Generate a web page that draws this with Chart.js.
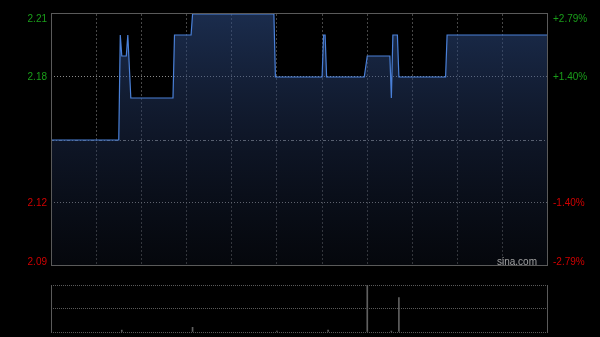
<!DOCTYPE html>
<html>
<head>
<meta charset="utf-8">
<script src="https://cdn.jsdelivr.net/npm/chart.js@4"></script>
<style>
  html, body { margin: 0; padding: 0; background: #000; }
  #wrap { position: relative; width: 600px; height: 337px; background: #000; overflow: hidden; }
  #priceChart { position: absolute; left: 0; top: 0; }
  #volChart { position: absolute; left: 0; top: 275px; }
</style>
</head>
<body>
<div id="wrap">
  <canvas id="priceChart" width="600" height="280"></canvas>
  <canvas id="volChart" width="600" height="62"></canvas>
</div>
<script>
// Data (minutes from open, 30-min grid, 330 min day)
const prevClose = 2.15;
const priceTicks = [2.09, 2.12, 2.15, 2.18, 2.21];
const minutes = [0, 45, 46, 47, 50, 51, 53, 81, 82, 93, 94, 148, 149, 180, 181, 182, 183, 208, 210, 225, 226, 227, 230, 231, 262, 263, 330];
const prices  = [2.15, 2.15, 2.20, 2.19, 2.19, 2.20, 2.17, 2.17, 2.20, 2.20, 2.21, 2.21, 2.18, 2.18, 2.20, 2.20, 2.18, 2.18, 2.19, 2.19, 2.17, 2.20, 2.20, 2.18, 2.18, 2.20, 2.20];
const volMinutes = [47, 94, 150, 184, 210, 226, 231];
const volumes    = [16000, 40000, 8000, 16000, 400000, 8000, 292000];

const UP = '#1a9e1a';
const DOWN = '#d00000';
const FONT = '10px "Liberation Sans", Arial, sans-serif';

// Gradient fill under the price line
function fillGradient(context) {
  const { chart } = context;
  const area = chart.chartArea;
  if (!area) return 'rgba(40,70,120,0.4)';
  const g = chart.ctx.createLinearGradient(0, area.top, 0, area.bottom);
  g.addColorStop(0, 'rgba(46,76,132,0.58)');
  g.addColorStop(0.5, 'rgba(34,52,92,0.42)');
  g.addColorStop(1, 'rgba(14,20,34,0.35)');
  return g;
}

// Frame + side labels for the price panel
const priceDecor = {
  id: 'priceDecor',
  afterDraw(chart) {
    const { ctx, chartArea: a, scales } = chart;
    ctx.save();
    ctx.strokeStyle = '#5a5a5a';
    ctx.lineWidth = 1;
    ctx.strokeRect(a.left + 0.5, a.top - 0.5, a.right - a.left - 1, a.bottom - a.top);

    ctx.font = FONT;
    ctx.textBaseline = 'middle';
    priceTicks.forEach(v => {
      if (v === prevClose) return;
      let y = scales.y.getPixelForValue(v);
      y = Math.min(Math.max(y, a.top + 5), a.bottom - 4);
      ctx.fillStyle = v > prevClose ? UP : DOWN;
      ctx.textAlign = 'right';
      ctx.fillText(v.toFixed(2), a.left - 4, y);
      const pct = (v / prevClose - 1) * 100;
      ctx.textAlign = 'left';
      ctx.fillText((pct > 0 ? '+' : '') + pct.toFixed(2) + '%', a.right + 5, y);
    });

    ctx.fillStyle = '#a0a0a0';
    ctx.textAlign = 'right';
    ctx.fillText('sina.com', a.right - 11, a.bottom - 4);
    ctx.restore();
  }
};

new Chart(document.getElementById('priceChart'), {
  type: 'line',
  data: {
    datasets: [{
      data: minutes.map((m, i) => ({ x: m, y: prices[i] })),
      borderColor: '#4a80d8',
      borderWidth: 1.2,
      pointRadius: 0,
      tension: 0,
      fill: 'start',
      backgroundColor: fillGradient,
    }],
  },
  options: {
    responsive: false,
    animation: false,
    layout: { padding: { left: 51, right: 52, top: 14, bottom: 14 } },
    plugins: { legend: { display: false }, tooltip: { enabled: false } },
    scales: {
      x: {
        type: 'linear', min: 0, max: 330,
        ticks: { display: false, stepSize: 30 },
        grid: {
          drawTicks: false,
          color: c => (c.tick && (c.tick.value === 0 || c.tick.value === 330)) ? 'transparent' : '#474747',
        },
        border: { display: false, dash: [2, 2] },
        afterFit: s => { s.height = 0; },
      },
      y: {
        min: 2.09, max: 2.21,
        afterBuildTicks: s => { s.ticks = priceTicks.map(v => ({ value: v })); },
        ticks: { display: false },
        grid: {
          drawTicks: false,
          color: c => {
            if (!c.tick) return 'transparent';
            const v = c.tick.value;
            if (v === prevClose) return '#808080';
            if (v === 2.12 || v === 2.18) return '#8a8a8a';
            return 'transparent';
          },
        },
        border: {
          display: false,
          dash: c => (c.tick && c.tick.value === prevClose) ? [3, 2, 1, 2] : [1, 2],
        },
        afterFit: s => { s.width = 0; },
      },
    },
  },
  plugins: [priceDecor],
});

// Volume panel
const volMax = Math.max(...volumes);
const volFrame = {
  id: 'volFrame',
  afterDraw(chart) {
    const { ctx, chartArea: a } = chart;
    ctx.save();
    ctx.strokeStyle = '#5a5a5a';
    ctx.lineWidth = 1;
    ctx.beginPath();
    ctx.moveTo(a.left + 0.5, a.top);
    ctx.lineTo(a.left + 0.5, a.bottom + 1);
    ctx.moveTo(a.right - 0.5, a.top);
    ctx.lineTo(a.right - 0.5, a.bottom + 1);
    ctx.stroke();
    ctx.restore();
  }
};

new Chart(document.getElementById('volChart'), {
  type: 'bar',
  data: {
    datasets: [{
      data: volMinutes.map((m, i) => ({ x: m, y: volumes[i] })),
      backgroundColor: '#606060',
      barThickness: 1,
      grouped: false,
    }],
  },
  options: {
    responsive: false,
    animation: false,
    layout: { padding: { left: 51, right: 52, top: 10, bottom: 5 } },
    plugins: { legend: { display: false }, tooltip: { enabled: false } },
    scales: {
      x: {
        type: 'linear', min: 0, max: 330, offset: false,
        ticks: { display: false },
        grid: { display: false, offset: false },
        border: { display: false },
        afterFit: s => { s.height = 0; },
      },
      y: {
        min: 0, max: volMax,
        afterBuildTicks: s => { s.ticks = [0, volMax / 2, volMax].map(v => ({ value: v })); },
        ticks: { display: false },
        grid: { drawTicks: false, color: '#5a5a5a' },
        border: { display: false, dash: [1, 1] },
        afterFit: s => { s.width = 0; },
      },
    },
  },
  plugins: [volFrame],
});
</script>
</body>
</html>
